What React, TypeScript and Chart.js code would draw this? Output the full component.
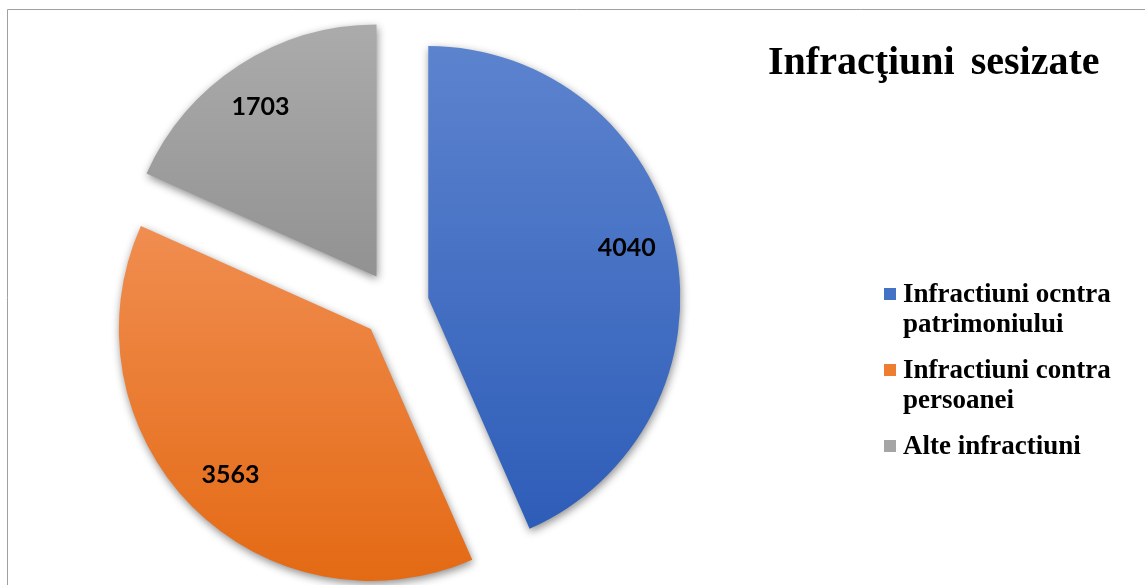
import React, { useEffect, useRef } from "react";
import { Chart, registerables } from "chart.js";

Chart.register(...registerables);

// ---- data ----
const categories = [
  "Infractiuni ocntra patrimoniului",
  "Infractiuni contra persoanei",
  "Alte infractiuni",
];
const legendLines = [
  ["Infractiuni ocntra", "patrimoniului"],
  ["Infractiuni contra", "persoanei"],
  ["Alte infractiuni"],
];
const values = [4040, 3563, 1703];
const chartTitle = "Infracţiuni sesizate";

// ---- styles ----
const baseColors = ["#4472C4", "#ED7D31", "#A5A5A5"];
const topColors = ["#5C83CE", "#F08D50", "#ABABAB"];
const bottomColors = ["#2E5DB8", "#E46A14", "#929292"];
const EXPLODE = 34;

const explodePlugin = {
  id: "explode",
  afterDatasetsUpdate(chart: any) {
    const meta = chart.getDatasetMeta(0);
    const ctx = chart.ctx;
    meta.data.forEach((el: any, i: number) => {
      const mid = (el.startAngle + el.endAngle) / 2;
      el.x += Math.cos(mid) * EXPLODE;
      el.y += Math.sin(mid) * EXPLODE;
      let minY = el.y;
      let maxY = el.y;
      for (let k = 0; k <= 90; k++) {
        const a = el.startAngle + ((el.endAngle - el.startAngle) * k) / 90;
        const y = el.y + Math.sin(a) * el.outerRadius;
        minY = Math.min(minY, y);
        maxY = Math.max(maxY, y);
      }
      const g = ctx.createLinearGradient(0, minY, 0, maxY);
      g.addColorStop(0, topColors[i]);
      g.addColorStop(1, bottomColors[i]);
      el.options = Object.assign({}, el.options, { backgroundColor: g, borderWidth: 0 });
    });
  },
};

const backgroundPlugin = {
  id: "bgframe",
  beforeDraw(chart: any) {
    const ctx = chart.ctx;
    ctx.save();
    ctx.fillStyle = "#ffffff";
    ctx.fillRect(0, 0, chart.width, chart.height);
    ctx.strokeStyle = "#A0A0A0";
    ctx.lineWidth = 1;
    ctx.beginPath();
    ctx.moveTo(7.5, chart.height);
    ctx.lineTo(7.5, 9.5);
    ctx.lineTo(chart.width, 9.5);
    ctx.stroke();
    ctx.restore();
  },
};

const shadowPlugin = {
  id: "shadow",
  beforeDatasetsDraw(chart: any) {
    const ctx = chart.ctx;
    ctx.save();
    ctx.shadowColor = "rgba(0,0,0,0.45)";
    ctx.shadowBlur = 8;
    ctx.shadowOffsetX = 1;
    ctx.shadowOffsetY = 3;
  },
  afterDatasetsDraw(chart: any) {
    chart.ctx.restore();
  },
};

const labelsPlugin = {
  id: "sliceLabels",
  afterDatasetsDraw(chart: any) {
    const ctx = chart.ctx;
    const meta = chart.getDatasetMeta(0);
    const data = chart.data.datasets[0].data;
    ctx.save();
    ctx.fillStyle = "#000000";
    ctx.font = 'bold 25px Lato';
    ctx.textAlign = "center";
    ctx.textBaseline = "middle";
    meta.data.forEach((el: any, i: number) => {
      const mid = (el.startAngle + el.endAngle) / 2 - 0.03;
      const r = el.outerRadius * 0.81;
      ctx.fillText(String(data[i]), el.x + Math.cos(mid) * r, el.y + Math.sin(mid) * r - 2);
    });
    ctx.restore();
  },
};

const legendTitlePlugin = {
  id: "legendTitle",
  afterDraw(chart: any) {
    const ctx = chart.ctx;
    ctx.save();
    ctx.fillStyle = "#000000";
    ctx.textAlign = "left";
    ctx.textBaseline = "alphabetic";
    ctx.font = 'bold 40px "Liberation Serif"';
    (ctx as any).wordSpacing = "6px";
    ctx.fillText(chartTitle, 768, 74);
    (ctx as any).wordSpacing = "0px";

    ctx.font = 'bold 27px "Liberation Serif"';
    const baselines = [[302, 332], [378, 408], [454]];
    legendLines.forEach((lines, i) => {
      const b0 = baselines[i][0];
      ctx.fillStyle = baseColors[i];
      ctx.fillRect(884, b0 - 14, 12, 12);
      ctx.fillStyle = "#000000";
      lines.forEach((t, j) => ctx.fillText(t, 903, baselines[i][j]));
    });
    ctx.restore();
  },
};

export default function App() {
  const ref = useRef<HTMLCanvasElement>(null);
  useEffect(() => {
    const chart = new Chart(ref.current as HTMLCanvasElement, {
      type: "pie",
      data: {
        labels: categories,
        datasets: [
          {
            data: values,
            backgroundColor: baseColors,
            borderWidth: 0,
          },
        ],
      },
      options: {
        animation: false,
        responsive: false,
        events: [],
        radius: 252,
        layout: { padding: { left: 0, right: 355, top: 25, bottom: 0 } },
        plugins: {
          legend: { display: false },
          title: { display: false },
          tooltip: { enabled: false },
        },
      } as any,
      plugins: [backgroundPlugin, explodePlugin, shadowPlugin, labelsPlugin, legendTitlePlugin],
    });
    return () => chart.destroy();
  }, []);
  return (
    <div style={{ position: "fixed", left: 0, top: 0, width: 1145, height: 585, background: "#fff" }}>
      <canvas ref={ref} width={1145} height={585} style={{ display: "block" }} />
    </div>
  );
}
